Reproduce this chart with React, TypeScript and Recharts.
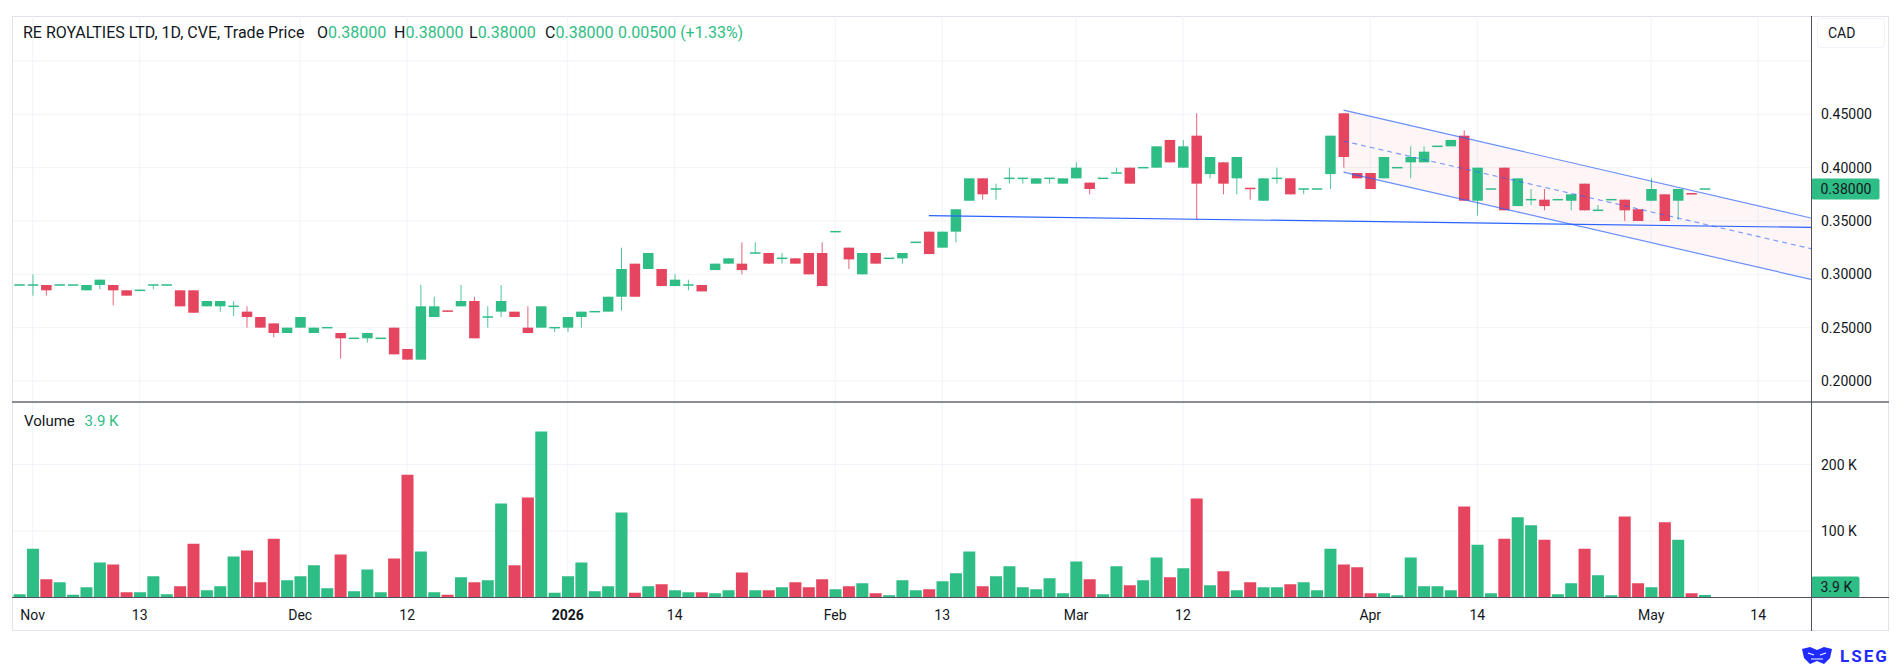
import React from 'react';
import {
  Area,
  Bar,
  CartesianGrid,
  Cell,
  ComposedChart,
  Line,
  ReferenceLine,
  XAxis,
  YAxis,
} from 'recharts';

// daily bars, Oct 31 -> May 8 (index = trading slot)
const open = [
  0.29, 0.29, 0.29, 0.29, 0.29, 0.285, 0.29, 0.29, 0.285, 0.285,
  0.29, 0.29, 0.285, 0.285, 0.27, 0.27, 0.27, 0.265, 0.26, 0.254,
  0.245, 0.25, 0.245, 0.25, 0.245, 0.24, 0.24, 0.24, 0.25, 0.23,
  0.22, 0.26, 0.266, 0.27, 0.275, 0.26, 0.265, 0.265, 0.25, 0.25,
  0.25, 0.25, 0.26, 0.265, 0.265, 0.279, 0.31, 0.305, 0.305, 0.289,
  0.29, 0.29, 0.304, 0.31, 0.31, 0.32, 0.32, 0.315, 0.315, 0.32,
  0.32, 0.34, 0.325, 0.3, 0.32, 0.315, 0.315, 0.33, 0.34, 0.325,
  0.34, 0.369, 0.39, 0.38, 0.39, 0.39, 0.385, 0.39, 0.385, 0.39,
  0.386, 0.39, 0.395, 0.4, 0.4, 0.4, 0.426, 0.4, 0.43, 0.394,
  0.405, 0.39, 0.381, 0.369, 0.39, 0.39, 0.38, 0.38, 0.394, 0.451,
  0.395, 0.395, 0.39, 0.4, 0.405, 0.405, 0.42, 0.42, 0.43, 0.369,
  0.38, 0.4, 0.364, 0.37, 0.37, 0.37, 0.369, 0.385, 0.36, 0.37,
  0.37, 0.361, 0.369, 0.375, 0.369, 0.376, 0.38,
];
const high = [
  0.29, 0.3, 0.29, 0.29, 0.29, 0.29, 0.295, 0.29, 0.285, 0.285,
  0.29, 0.29, 0.285, 0.285, 0.275, 0.275, 0.275, 0.27, 0.26, 0.254,
  0.25, 0.26, 0.25, 0.25, 0.245, 0.24, 0.245, 0.24, 0.25, 0.23,
  0.29, 0.279, 0.266, 0.29, 0.279, 0.27, 0.29, 0.265, 0.27, 0.27,
  0.25, 0.26, 0.265, 0.265, 0.279, 0.325, 0.31, 0.32, 0.305, 0.3,
  0.295, 0.29, 0.31, 0.315, 0.33, 0.33, 0.32, 0.32, 0.315, 0.32,
  0.33, 0.34, 0.325, 0.32, 0.32, 0.315, 0.32, 0.33, 0.34, 0.34,
  0.361, 0.39, 0.39, 0.385, 0.4, 0.39, 0.39, 0.39, 0.39, 0.405,
  0.386, 0.39, 0.4, 0.4, 0.4, 0.42, 0.426, 0.426, 0.451, 0.41,
  0.405, 0.41, 0.381, 0.39, 0.4, 0.39, 0.38, 0.38, 0.43, 0.451,
  0.395, 0.395, 0.41, 0.4, 0.42, 0.42, 0.42, 0.426, 0.435, 0.4,
  0.38, 0.4, 0.39, 0.38, 0.38, 0.37, 0.375, 0.385, 0.365, 0.37,
  0.37, 0.361, 0.39, 0.375, 0.38, 0.376, 0.38,
];
const low = [
  0.29, 0.28, 0.28, 0.29, 0.29, 0.285, 0.286, 0.271, 0.28, 0.285,
  0.286, 0.29, 0.27, 0.264, 0.27, 0.265, 0.261, 0.25, 0.25, 0.241,
  0.245, 0.25, 0.245, 0.25, 0.221, 0.24, 0.236, 0.24, 0.225, 0.22,
  0.22, 0.26, 0.265, 0.27, 0.24, 0.25, 0.26, 0.26, 0.245, 0.25,
  0.246, 0.246, 0.25, 0.265, 0.265, 0.266, 0.279, 0.305, 0.289, 0.289,
  0.285, 0.284, 0.304, 0.31, 0.3, 0.32, 0.31, 0.31, 0.31, 0.3,
  0.289, 0.34, 0.305, 0.3, 0.31, 0.315, 0.31, 0.33, 0.319, 0.325,
  0.33, 0.369, 0.37, 0.37, 0.385, 0.385, 0.385, 0.385, 0.385, 0.39,
  0.375, 0.39, 0.395, 0.385, 0.4, 0.4, 0.405, 0.4, 0.351, 0.39,
  0.375, 0.375, 0.37, 0.369, 0.385, 0.375, 0.375, 0.38, 0.38, 0.4,
  0.39, 0.38, 0.39, 0.4, 0.39, 0.405, 0.42, 0.42, 0.369, 0.355,
  0.38, 0.36, 0.364, 0.365, 0.36, 0.37, 0.36, 0.36, 0.36, 0.37,
  0.35, 0.35, 0.369, 0.35, 0.351, 0.375, 0.38,
];
const close = [
  0.29, 0.29, 0.285, 0.29, 0.29, 0.29, 0.295, 0.285, 0.28, 0.285,
  0.29, 0.29, 0.27, 0.264, 0.275, 0.275, 0.27, 0.26, 0.25, 0.245,
  0.25, 0.26, 0.25, 0.25, 0.24, 0.24, 0.245, 0.24, 0.225, 0.22,
  0.27, 0.27, 0.265, 0.275, 0.24, 0.26, 0.275, 0.26, 0.245, 0.27,
  0.25, 0.26, 0.265, 0.265, 0.279, 0.305, 0.279, 0.32, 0.289, 0.295,
  0.29, 0.284, 0.31, 0.315, 0.304, 0.32, 0.31, 0.315, 0.31, 0.3,
  0.289, 0.34, 0.314, 0.32, 0.31, 0.315, 0.32, 0.33, 0.319, 0.34,
  0.361, 0.39, 0.375, 0.38, 0.39, 0.39, 0.39, 0.39, 0.39, 0.4,
  0.38, 0.39, 0.395, 0.385, 0.4, 0.42, 0.405, 0.42, 0.385, 0.41,
  0.385, 0.41, 0.38, 0.39, 0.39, 0.375, 0.38, 0.38, 0.43, 0.41,
  0.39, 0.38, 0.41, 0.4, 0.41, 0.415, 0.42, 0.426, 0.369, 0.4,
  0.38, 0.36, 0.39, 0.37, 0.364, 0.37, 0.375, 0.36, 0.36, 0.37,
  0.36, 0.35, 0.38, 0.35, 0.38, 0.375, 0.38,
];
// volume in thousands of shares
const volumeK = [
  5, 73.5, 27.5, 23, 4, 15.5, 52.5, 49.5, 8, 8,
  32, 5, 17, 81, 11, 17, 61.5, 70.5, 23, 88.5,
  26, 32, 48.5, 14, 64.5, 9.5, 42, 8, 58.5, 184.5,
  69, 8, 4, 30.5, 23, 26, 141.5, 48.5, 150.5, 249.5,
  7, 32, 52.5, 9.5, 17, 128, 7, 17, 20, 11,
  8, 8, 6.5, 11, 37.5, 11, 11, 15.5, 23, 15.5,
  27.5, 12.5, 17, 21.5, 6.5, 3.5, 26, 11, 12.5, 24.5,
  36.5, 69, 17, 32, 47, 15.5, 12.5, 29, 6.5, 54,
  27.5, 5, 47, 18.5, 26, 60, 30.5, 44, 149, 18.5,
  39.5, 11, 23, 15.5, 15.5, 20, 23, 11, 73.5, 49.5,
  45.5, 6.5, 6.5, 3.5, 60, 17, 17, 11, 137, 79.5,
  6.5, 88.5, 120.5, 108.5, 87, 5, 21.5, 73.5, 33.5, 3.5,
  122, 21.5, 15.5, 113, 87, 6.5, 3.9,
];

const tickIdx = [1, 9, 21, 29, 41, 49, 61, 69, 79, 87, 101, 109, 122, 130];
const tickLabels = ['Nov', '13', 'Dec', '12', '2026', '14', 'Feb', '13', 'Mar', '12', 'Apr', '14', 'May', '14'];
const priceTicks = [0.2, 0.25, 0.3, 0.35, 0.4, 0.45];
const priceGrid = [0.2, 0.25, 0.3, 0.35, 0.4, 0.45, 0.5];
const volumeTicks = [100000, 200000];

// drawings: parallel channel + flat trend line
const channelUpper = [{ i: 99, v: 0.454 }, { i: 133.95, v: 0.3528 }];
const channelLower = [{ i: 99, v: 0.3959 }, { i: 133.95, v: 0.2953 }];
const trendLine = [{ i: 68, v: 0.355 }, { i: 133.95, v: 0.344 }];

const GREEN = '#2ebd85';
const RED = '#e5455e';
const TEXT = '#131722';
const GRID = '#f0f3fa';
const BLUE = '#2962ff';
const FONT = 'Roboto, sans-serif';

const X_DOMAIN = [-0.47, 133.95];
const P_DOMAIN = [0.1803, 0.5422];
const PRICE_H = 386;
const VOL_H = 194.5;
const VOL_MAX = 292500;

const candles = open.map((o, i) => ({
  i,
  o,
  h: high[i],
  l: low[i],
  c: close[i],
  vol: volumeK[i] * 1000,
  up: close[i] >= o,
}));

const channel = channelUpper.map((p, k) => ({
  i: p.i,
  hi: p.v,
  lo: channelLower[k].v,
  mid: (p.v + channelLower[k].v) / 2,
}));

const last = candles[candles.length - 1];

function Candle(props: any) {
  const { x, y, width, height, payload } = props;
  const { o, h, l, c, up } = payload;
  const color = up ? GREEN : RED;
  const cx = x + width / 2;
  const span = h - l;
  const yOf = (v: number) => (span > 0 ? y + ((h - v) / span) * height : y);
  const top = yOf(Math.max(o, c));
  const bot = yOf(Math.min(o, c));
  const flat = bot - top < 1.5;
  return (
    <g>
      {span > 0 && (
        <line x1={cx} x2={cx} y1={y} y2={y + height} stroke={color} strokeWidth={1} strokeOpacity={0.85} />
      )}
      <rect
        x={cx - 5.25}
        y={flat ? (top + bot) / 2 - 0.75 : top}
        width={10.5}
        height={flat ? 1.5 : bot - top}
        fill={color}
      />
    </g>
  );
}

function PriceTick({ x, y, payload }: any) {
  return (
    <text x={x} y={y} dominantBaseline="central" fill={TEXT} fontSize={14} fontFamily={FONT}>
      {payload.value.toFixed(5)}
    </text>
  );
}

function VolumeTick({ x, y, payload }: any) {
  return (
    <text x={x} y={y} dominantBaseline="central" fill={TEXT} fontSize={14} fontFamily={FONT}>
      {`${payload.value / 1000} K`}
    </text>
  );
}

function DateTick({ x, y, payload }: any) {
  const k = tickIdx.indexOf(payload.value);
  const label = tickLabels[k];
  return (
    <text
      x={x}
      y={y + 9}
      textAnchor="middle"
      dominantBaseline="central"
      fill={TEXT}
      fontSize={14}
      fontFamily={FONT}
      fontWeight={label === '2026' ? 700 : 400}
    >
      {label}
    </text>
  );
}

function Badge({ viewBox, text, w, maxY }: any) {
  const cy = Math.min(viewBox.y, maxY ?? Infinity);
  const x0 = viewBox.x + viewBox.width + 0.5;
  return (
    <g>
      <rect x={x0} y={cy - 10.5} width={w} height={21} rx={2} fill={GREEN} />
      <text x={x0 + 9} y={cy} dominantBaseline="central" fill={TEXT} fontSize={14} fontFamily={FONT}>
        {text}
      </text>
    </g>
  );
}

function Legend() {
  const items = [
    { x: 317, k: 'O', v: last.o.toFixed(5) },
    { x: 394, k: 'H', v: last.h.toFixed(5) },
    { x: 469, k: 'L', v: last.l.toFixed(5) },
    { x: 545, k: 'C', v: last.c.toFixed(5) },
  ];
  const prev = candles[candles.length - 2].c;
  const chg = last.c - prev;
  const pct = (chg / prev) * 100;
  const base: React.CSSProperties = { position: 'absolute', top: 23, fontSize: 16, whiteSpace: 'nowrap' };
  return (
    <>
      <div style={{ ...base, left: 23, color: TEXT }}>RE ROYALTIES LTD, 1D, CVE, Trade Price</div>
      {items.map((it) => (
        <div key={it.k} style={{ ...base, left: it.x, color: TEXT }}>
          {it.k}
          <span style={{ color: GREEN }}>{it.v}</span>
        </div>
      ))}
      <div style={{ ...base, left: 618, color: GREEN }}>
        {`${chg.toFixed(5)} (+${pct.toFixed(2)}%)`}
      </div>
    </>
  );
}

export default function App() {
  const volTop = 403;
  return (
    <div
      style={{
        position: 'absolute',
        left: 0,
        top: 0,
        width: 1903,
        height: 671,
        background: '#fff',
        fontFamily: FONT,
        overflow: 'hidden',
      }}
    >
      {/* frame */}
      <div style={{ position: 'absolute', left: 12, top: 16, width: 1877, height: 615, border: '1px solid #e0e3eb', boxSizing: 'border-box' }} />

      <div style={{ position: 'absolute', left: 0, top: 16 }}>
        <ComposedChart width={1903} height={PRICE_H} data={candles} margin={{ top: 0, right: 0, bottom: 0, left: 13 }}>
          <CartesianGrid stroke={GRID} horizontalValues={priceGrid} verticalValues={tickIdx} />
          <XAxis dataKey="i" type="number" domain={X_DOMAIN} allowDataOverflow hide ticks={tickIdx} />
          <YAxis
            orientation="right"
            domain={P_DOMAIN}
            allowDataOverflow
            ticks={priceTicks}
            width={92}
            axisLine={false}
            tickLine={false}
            tickMargin={4}
            tick={<PriceTick />}
          />
          <Area
            data={channel}
            dataKey={(d: any) => [d.lo, d.hi]}
            type="linear"
            stroke="none"
            fill="#f23645"
            fillOpacity={0.05}
            isAnimationActive={false}
          />
          <Bar dataKey={(d: any) => [d.l, d.h]} barSize={10} shape={Candle} isAnimationActive={false} />
          <Line data={channelUpper} dataKey="v" type="linear" stroke={BLUE} strokeOpacity={0.7} strokeWidth={1.2} dot={false} isAnimationActive={false} />
          <Line data={channelLower} dataKey="v" type="linear" stroke={BLUE} strokeOpacity={0.7} strokeWidth={1.2} dot={false} isAnimationActive={false} />
          <Line data={channel} dataKey="mid" type="linear" stroke={BLUE} strokeOpacity={0.6} strokeWidth={1.2} strokeDasharray="5 4" dot={false} isAnimationActive={false} />
          <Line data={trendLine} dataKey="v" type="linear" stroke={BLUE} strokeWidth={1.2} dot={false} isAnimationActive={false} />
          <ReferenceLine y={last.c} stroke="none" label={<Badge text={last.c.toFixed(5)} w={68} />} />
        </ComposedChart>
      </div>

      <Legend />

      {/* currency box */}
      <div
        style={{
          position: 'absolute',
          left: 1817,
          top: 18,
          width: 68,
          height: 30,
          border: '1px solid #f0f3fa',
          borderRadius: 4,
          boxSizing: 'border-box',
          fontSize: 14,
          color: TEXT,
          lineHeight: '28px',
          paddingLeft: 10,
        }}
      >
        CAD
      </div>

      {/* pane separator */}
      <div style={{ position: 'absolute', left: 12, top: 401, width: 1877, height: 2, background: '#8a8d93' }} />

      <div style={{ position: 'absolute', left: 0, top: volTop }}>
        <ComposedChart width={1903} height={VOL_H + 36} data={candles} margin={{ top: 0, right: 0, bottom: 0, left: 13 }}>
          <CartesianGrid stroke={GRID} horizontalValues={volumeTicks} verticalValues={tickIdx} />
          <XAxis
            dataKey="i"
            type="number"
            domain={X_DOMAIN}
            allowDataOverflow
            ticks={tickIdx}
            interval={0}
            height={36}
            axisLine={false}
            tickLine={false}
            tick={<DateTick />}
          />
          <YAxis
            orientation="right"
            domain={[0, VOL_MAX]}
            allowDataOverflow
            ticks={volumeTicks}
            width={92}
            axisLine={false}
            tickLine={false}
            tickMargin={4}
            tick={<VolumeTick />}
          />
          <Bar dataKey="vol" barSize={12} isAnimationActive={false}>
            {candles.map((d) => (
              <Cell key={d.i} fill={d.up ? GREEN : RED} />
            ))}
          </Bar>
          <ReferenceLine y={last.vol} stroke="none" label={<Badge text="3.9 K" w={48} maxY={VOL_H - 10.5} />} />
        </ComposedChart>
      </div>

      <div style={{ position: 'absolute', left: 24, top: 412, fontSize: 15, color: TEXT, whiteSpace: 'nowrap' }}>
        Volume <span style={{ color: GREEN, marginLeft: 6 }}>3.9 K</span>
      </div>

      {/* bottom axis line, right price-scale border */}
      <div style={{ position: 'absolute', left: 12, top: 597, width: 1877, height: 1, background: '#50535e' }} />
      <div style={{ position: 'absolute', left: 1811, top: 16, width: 1, height: 615, background: '#50535e' }} />

      {/* LSEG mark */}
      <div style={{ position: 'absolute', left: 1800, top: 646, display: 'flex', alignItems: 'center', gap: 6 }}>
        <svg width={34} height={20} viewBox="0 0 34 20">
          <path d="M2 3 L10 1 L17 4 L24 1 L32 3 L30 12 L24 18 L17 15 L10 18 L4 12 Z" fill="#1f2bff" />
          <path d="M8 7 L14 9 M20 9 L26 7 M11 13 L23 13" stroke="#fff" strokeWidth={1.2} />
        </svg>
        <span style={{ color: '#1f2bff', fontWeight: 700, fontSize: 17, letterSpacing: 2 }}>LSEG</span>
      </div>
    </div>
  );
}
